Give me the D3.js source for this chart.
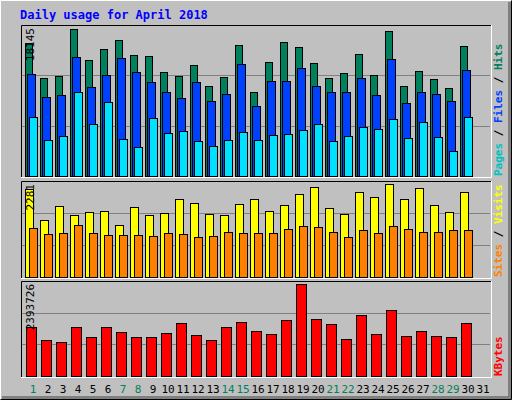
<!DOCTYPE html>
<html><head><meta charset="utf-8">
<script src="https://cdn.jsdelivr.net/npm/d3@7"></script>
<style>body{margin:0;background:#fff}</style>
</head><body>
<script>
var days = d3.range(1, 32);
var weekend = [1, 7, 8, 14, 15, 21, 22, 28, 29];
var hits = [16415, 12095, 12340, 18145, 14316, 15675, 16785, 14935, 14810, 12835, 12340, 13700, 11110, 12220, 16170, 10370, 14070, 16540, 15920, 13950, 12095, 12715, 15060, 12465, 17900, 11110, 12960, 11970, 10860, 16045];
var files = [12590, 9750, 10000, 14690, 10985, 12465, 14565, 12835, 11600, 10370, 9625, 11600, 9255, 10120, 13825, 8640, 11725, 11725, 13330, 11110, 10370, 10370, 12095, 10000, 14440, 9010, 10370, 10120, 9255, 13085];
var pages = [7280, 4445, 4935, 10370, 6420, 9135, 4565, 3580, 7160, 5305, 5555, 4320, 3700, 4445, 5430, 4445, 5060, 5185, 5675, 6420, 4320, 4935, 6050, 5800, 7035, 4690, 6665, 4815, 3085, 7280];
var visits = [2158, 1392, 1738, 1515, 1589, 1614, 1268, 1713, 1515, 1565, 1910, 1812, 1540, 1515, 1787, 1910, 1614, 1762, 2034, 2207, 1688, 1540, 2083, 1960, 2281, 1910, 2182, 1762, 1589, 2083];
var sites = [1194, 1046, 1071, 1268, 1071, 1021, 1021, 1021, 996, 1071, 1046, 972, 996, 1095, 1071, 1071, 1071, 1169, 1243, 1219, 1095, 972, 1145, 1071, 1243, 1169, 1095, 1095, 1145, 1145];
var kbytes = [1266700, 926000, 873600, 1266700, 1004600, 1266700, 1135700, 1004600, 1004600, 1109500, 1371600, 1057100, 926000, 1266700, 1397800, 1161900, 1083300, 1450200, 2393726, 1476400, 1345300, 952200, 1581200, 1083300, 1712300, 1030800, 1161900, 1030800, 1004600, 1371600];

var W = 512, H = 400, font = "'DejaVu Sans Mono', monospace";
var svg = d3.select("body").append("svg").attr("width", W).attr("height", H);

// frame
svg.append("rect").attr("width", W).attr("height", H).attr("fill", "#c0c0c0");
svg.append("path").attr("d", "M0.5,399.5V0.5H511.5").attr("stroke", "#fff").attr("fill", "none");
svg.append("path").attr("d", "M509.5,2V397.5H2").attr("stroke", "#808080").attr("stroke-width", 3).attr("fill", "none");
svg.append("path").attr("d", "M0.5,399.5H511.5V0.5").attr("stroke", "#000").attr("fill", "none");

svg.append("text").attr("x", 20).attr("y", 19).attr("fill", "#0000ff")
    .attr("font-family", font).attr("font-size", 12).attr("font-weight", "bold")
    .text("Daily usage for April 2018");

var x = d3.scaleLinear().domain([1, 31]).range([25, 475]);

function panel(top, bottom, max, yMax, series, labels) {
    var y = d3.scaleLinear().domain([0, max]).range([bottom, yMax]);
    var g = svg.append("g");
    g.append("rect").attr("x", 21).attr("y", top).attr("width", 470).attr("height", bottom - top + 1)
        .attr("fill", "#c0c0c0");
    [1, 2].forEach(function (k) {
        var gy = Math.round(bottom - (bottom - top) * k / 3) + 0.5;
        g.append("line").attr("x1", 22).attr("x2", 490).attr("y1", gy).attr("y2", gy)
            .attr("stroke", "#808080");
    });
    g.append("path").attr("d", "M21.5," + (bottom + 1) + "V" + (top + 0.5) + "H491")
        .attr("stroke", "#000").attr("fill", "none");
    g.append("path").attr("d", "M21," + (bottom + 1.5) + "H491.5V" + top)
        .attr("stroke", "#fff").attr("fill", "none");
    series.forEach(function (s) {
        g.selectAll(null).data(s.data).enter().append("rect")
            .attr("x", function (d, i) { return x(i + 1) + s.off + 0.5; })
            .attr("y", function (d) { return Math.round(y(d)) + 0.5; })
            .attr("width", s.w)
            .attr("height", function (d) { return bottom - Math.round(y(d)); })
            .attr("fill", s.color).attr("stroke", "#000");
    });
    g.append("text").attr("transform", "translate(34," + (top + 3) + ") rotate(-90)")
        .attr("text-anchor", "end").attr("font-family", font).attr("font-size", 11)
        .text(max);
    var t = g.append("text").attr("transform", "translate(502," + (top + 3) + ") rotate(90)")
        .attr("font-family", font).attr("font-size", 11).attr("font-weight", "bold");
    labels.forEach(function (l, i) {
        if (i) t.append("tspan").attr("fill", "#000").text(" / ");
        t.append("tspan").attr("fill", l[1]).text(l[0]);
    });
    // right labels read bottom-to-top in the original
    t.attr("transform", "translate(502," + (bottom) + ") rotate(-90)");
}

panel(25, 176, 18145, 29, [
    {data: hits, off: 0, w: 7, color: "#00805c"},
    {data: files, off: 2, w: 8, color: "#0040ff"},
    {data: pages, off: 4, w: 8, color: "#00e0ff"}
], [["Pages", "#00c0c0"], ["Files", "#0040ff"], ["Hits", "#00805c"]]);

panel(181, 277, 2281, 184, [
    {data: visits, off: 0, w: 8, color: "#ffff00"},
    {data: sites, off: 4, w: 8, color: "#ff8000"}
], [["Sites", "#ff8000"], ["Visits", "#ffff00"]]);

panel(281, 376, 2393726, 284, [
    {data: kbytes, off: 1, w: 10, color: "#ff0000"}
], [["KBytes", "#ff0000"]]);

svg.selectAll(null).data(days).enter().append("text")
    .attr("x", function (d) { return x(d) + 8; })
    .attr("y", 393).attr("text-anchor", "middle")
    .attr("font-family", font).attr("font-size", 11)
    .attr("fill", function (d) { return weekend.indexOf(d) >= 0 ? "#00805c" : "#000"; })
    .text(function (d) { return d; });
</script>
</body></html>
